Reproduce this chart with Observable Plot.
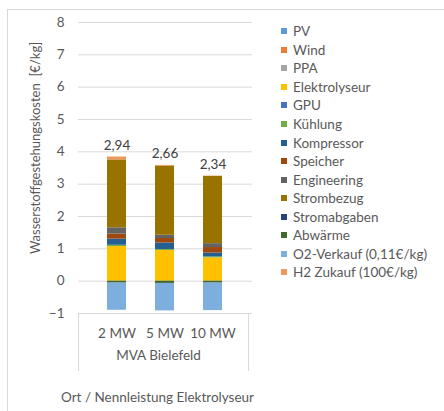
<!DOCTYPE html>
<html><head><meta charset="utf-8">
<script src="https://cdn.jsdelivr.net/npm/d3@7"></script>
<script src="https://cdn.jsdelivr.net/npm/@observablehq/plot@0.6"></script>
<style>
body{margin:0;background:#fff;font-family:Lato, sans-serif;}
#wrap{position:relative;width:444px;height:411px;overflow:hidden;background:#fff;}
#border{position:absolute;left:7px;top:9px;width:460px;height:420px;border:1px solid #d9d9d9;box-sizing:border-box;}
#chart{position:absolute;left:0;top:0;}
#legend{position:absolute;left:281px;top:22px;font-size:13.5px;color:#595959;}
#legend .row{display:flex;align-items:center;height:18.56px;white-space:nowrap;}
#legend .sw{width:6px;height:6px;margin-right:6px;flex:none;}
</style></head><body>
<div id="wrap"><div id="border"></div><div id="chart"></div><div id="legend"></div></div>
<script>
const categories = ["2 MW", "5 MW", "10 MW"];
const groupLabel = "MVA Bielefeld";
const xTitle = "Ort / Nennleistung Elektrolyseur";
const yTitle = "Wasserstoffgestehungskosten  [€/kg]";
const yTicks = [-1, 0, 1, 2, 3, 4, 5, 6, 7, 8];
const totals = [2.94, 2.66, 2.34];

const seriesNames = ["PV", "Wind", "PPA", "Elektrolyseur", "GPU", "Kühlung", "Kompressor", "Speicher", "Engineering", "Strombezug", "Stromabgaben", "Abwärme", "O2-Verkauf (0,11€/kg)", "H2 Zukauf (100€/kg)"];
const seriesColors = ["#5B9BD5", "#ED7D31", "#A5A5A5", "#FFC000", "#4472C4", "#70AD47", "#255E91", "#9E480E", "#636363", "#997300", "#264478", "#43682B", "#7CAFDD", "#F1975A"];

const PV = [0, 0, 0];
const Wind = [0, 0, 0];
const PPA = [0, 0, 0];
const Elektrolyseur = [1.07, 0.95, 0.72];
const GPU = [0, 0, 0];
const Kuehlung = [0.04, 0.03, 0.03];
const Kompressor = [0.19, 0.20, 0.12];
const Speicher = [0.16, 0.14, 0.17];
const Engineering = [0.19, 0.10, 0.12];
const Strombezug = [2.10, 2.14, 2.08];
const Stromabgaben = [0, 0, 0];
const Abwaerme = [-0.06, -0.07, -0.06];
const O2Verkauf = [-0.84, -0.85, -0.85];
const H2Zukauf = [0.09, 0.02, 0.01];

const seriesValues = [PV, Wind, PPA, Elektrolyseur, GPU, Kuehlung, Kompressor, Speicher, Engineering, Strombezug, Stromabgaben, Abwaerme, O2Verkauf, H2Zukauf];

const rows = [];
seriesNames.forEach((s, si) => categories.forEach((c, ci) => rows.push({series: s, cat: c, value: seriesValues[si][ci]})));
const posTop = categories.map((c, ci) => d3.sum(seriesValues, v => Math.max(0, v[ci])));
const labelRows = categories.map((c, ci) => ({cat: c, top: posTop[ci], total: totals[ci]}));
const fmt = v => d3.format(".2f")(v).replace(".", ",");

const grid = "#d9d9d9";
const chart = Plot.plot({
  width: 444, height: 411,
  marginLeft: 78, marginRight: 192, marginTop: 22, marginBottom: 98,
  style: {fontFamily: "Lato, sans-serif", fontSize: "13.5px", color: "#595959", background: "transparent", overflow: "visible"},
  x: {domain: categories, padding: 0.6, label: null},
  y: {domain: [-1, 8], label: null},
  color: {domain: seriesNames, range: seriesColors},
  marks: [
    Plot.gridY(yTicks, {stroke: grid, strokeOpacity: 1}),
    Plot.frame({anchor: "left", stroke: grid, strokeOpacity: 1, insetTop: 291, insetBottom: -57}),
    Plot.frame({anchor: "right", stroke: grid, strokeOpacity: 1, insetTop: 291, insetBottom: -57, insetRight: 4}),
    Plot.barY(rows.filter(d => d.value !== 0), {x: "cat", y: "value", fill: "series"}),
    Plot.axisY(yTicks, {tickSize: 0, tickPadding: 14, fontSize: 13.5}),
    Plot.axisX({tickSize: 0, tickPadding: 15, fontSize: 13.5}),
    Plot.text(labelRows, {x: "cat", y: "top", text: d => fmt(d.total), lineAnchor: "bottom", dy: -7, fontSize: 13.5, fill: "#404040"}),
    Plot.text([groupLabel], {text: d => d, frameAnchor: "bottom", lineAnchor: "top", dy: 37, dx: -7, fontSize: 13.5}),
    Plot.text([xTitle], {text: d => d, frameAnchor: "bottom", lineAnchor: "top", dy: 79, dx: -8, fontSize: 13.5}),
    Plot.text([yTitle], {text: d => d, frameAnchor: "left", textAnchor: "middle", rotate: -90, dx: -43, dy: -20, fontSize: 13})
  ]
});
document.getElementById("chart").appendChild(chart);

const legend = document.getElementById("legend");
seriesNames.forEach((s, i) => {
  const row = document.createElement("div");
  row.className = "row";
  row.innerHTML = `<span class="sw" style="background:${seriesColors[i]}"></span><span>${s}</span>`;
  legend.appendChild(row);
});
</script>
</body></html>
